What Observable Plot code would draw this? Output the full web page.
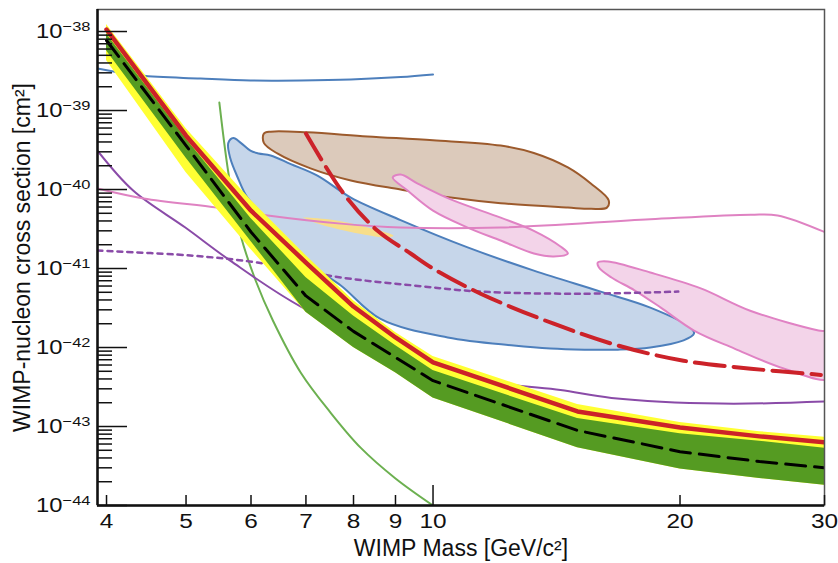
<!DOCTYPE html>
<html><head><meta charset="utf-8">
<script src="https://cdn.jsdelivr.net/npm/d3@7"></script>
<script src="https://cdn.jsdelivr.net/npm/@observablehq/plot@0.6"></script>
<style>body{margin:0;background:#fff}#chart{width:838px;height:563px}</style>
</head><body><div id="chart"></div>
<script>
// ---- expected-sensitivity band and observed limit (WIMP mass in GeV/c^2, cross section in cm^2)
const mass     = [4, 5, 6, 7, 8, 9, 10, 15, 20, 25, 30];
const limit    = [1.06e-38, 4.8e-40, 5.4e-41, 1.19e-41, 3.3e-42, 1.34e-42, 6.5e-43, 1.55e-43, 9.7e-44, 7.5e-44, 6.3e-44];
const median   = [7.7e-39, 3.6e-40, 2.9e-41, 4.5e-42, 1.6e-42, 7.5e-43, 3.8e-43, 8.9e-44, 4.8e-44, 3.6e-44, 3.0e-44];
const sigma1Hi = [9.4e-39, 4.4e-40, 4.3e-41, 7.7e-42, 2.5e-42, 1.06e-42, 5.1e-43, 1.26e-43, 8.1e-44, 6.5e-44, 5.3e-44];
const sigma1Lo = [5.7e-39, 2.5e-40, 2.2e-41, 2.8e-42, 1.0e-42, 4.8e-43, 2.3e-43, 5.4e-44, 2.9e-44, 2.2e-44, 1.8e-44];
const sigma2Hi = [1.23e-38, 5.9e-40, 7.3e-41, 1.46e-41, 3.9e-42, 1.55e-42, 7.7e-43, 1.9e-43, 1.12e-43, 8.6e-44, 7.3e-44];
const sigma2Lo = [4.3e-39, 1.64e-40, 1.74e-41, 2.8e-42, 1.0e-42, 4.8e-43, 2.3e-43, 5.4e-44, 2.9e-44, 2.2e-44, 1.8e-44];

// ---- other experiments: open curves
const blueLineM = [3.9, 4.40, 5.21, 5.99, 6.90, 7.94, 9.13, 10.0];
const blueLineS = [3.4e-39, 2.77e-39, 2.54e-39, 2.4e-39, 2.4e-39, 2.47e-39, 2.65e-39, 2.86e-39];
const greenLineM = [5.49, 5.65, 5.83, 6.08, 6.38, 6.90, 7.50, 8.16, 9.0, 10.0];
const greenLineS = [1.26e-39, 1.3e-40, 2.6e-41, 7.0e-42, 2.2e-42, 4.8e-43, 1.5e-43, 5.4e-44, 2.2e-44, 1.0e-44];
const purpleM = [3.9, 4.31, 4.99, 5.66, 6.90, 9.13, 11.86, 14.3, 16.5, 22.4, 30];
const purpleS = [3.1e-40, 9.7e-41, 3.3e-41, 1.26e-41, 3.3e-42, 9.0e-43, 3.7e-43, 2.9e-43, 2.3e-43, 1.95e-43, 2.07e-43];
const dottedM = [3.9, 5.06, 6.11, 7.72, 9.47, 11.43, 15.1, 19.9];
const dottedS = [1.69e-41, 1.46e-41, 1.19e-41, 7.7e-42, 6.1e-42, 5.1e-42, 4.8e-42, 5.1e-42];
const pinkLineM = [3.9, 4.44, 5.46, 6.29, 7.72, 9.13, 12.09, 18.4, 24.4, 26.3, 30];
const pinkLineS = [1.03e-40, 7.7e-41, 5.9e-41, 4.7e-41, 3.7e-41, 3.3e-41, 3.3e-41, 4.2e-41, 4.8e-41, 4.7e-41, 2.9e-41];
const redDashM = [7.0, 7.78, 8.56, 9.39, 10.0, 11.43, 14.03, 16.8, 20.2, 24.4, 29.7];
const redDashS = [5.1e-40, 8.9e-41, 3.0e-41, 1.55e-41, 1.0e-41, 4.8e-42, 2.0e-42, 1.06e-42, 6.8e-43, 5.4e-43, 4.5e-43];

// ---- closed contours [mass, cross section]
const brownRegion = [[6.22,5.1e-40],[6.34,5.4e-40],[7.03,5.3e-40],[8.32,4.7e-40],[10.0,4.2e-40],[12.09,3.6e-40],[13.27,2.9e-40],[14.60,1.9e-40],[15.57,1.19e-40],[16.37,7.3e-41],[16.29,5.9e-41],[15.57,5.7e-41],[14.60,5.9e-41],[12.09,6.7e-41],[10.51,7.9e-41],[9.13,1.0e-40],[7.94,1.3e-40],[7.09,1.85e-40],[6.46,2.86e-40],[6.22,3.9e-40]];
const blueRegion = [[5.63,3.9e-40],[5.71,4.5e-40],[5.83,3.9e-40],[5.99,3.1e-40],[6.13,2.86e-40],[6.34,2.7e-40],[6.71,2.1e-40],[7.23,1.5e-40],[7.94,7.9e-41],[9.13,4.1e-41],[11.02,1.85e-41],[13.27,9.4e-42],[16.01,5.1e-42],[18.4,3.2e-42],[20.6,1.79e-42],[20.8,1.5e-42],[20.2,1.23e-42],[18.4,1.0e-42],[16.8,9.4e-43],[15.3,9.4e-43],[13.9,9.7e-43],[12.54,1.06e-42],[10.42,1.34e-42],[8.63,2.3e-42],[7.72,6.1e-42],[7.19,1.0e-41],[6.71,1.85e-41],[6.22,4.7e-41],[5.94,7.9e-41],[5.78,1.42e-40],[5.66,2.5e-40]];
const orangeRegion = [[6.95,4.4e-41],[7.56,4.1e-41],[8.32,3.3e-41],[8.95,2.6e-41],[8.81,2.47e-41],[7.94,2.9e-41],[7.23,3.7e-41],[6.99,4.3e-41]];
const pinkRegion1 = [[8.93,1.42e-40],[9.13,1.55e-40],[9.58,1.19e-40],[10.51,7.5e-41],[12.09,4.4e-41],[13.27,3.0e-41],[14.3,1.9e-41],[14.6,1.55e-41],[14.03,1.42e-41],[13.27,1.55e-41],[12.09,2.26e-41],[11.02,3.3e-41],[10.0,5.4e-41],[9.31,9.7e-41]];
const pinkRegion2 = [[15.88,1.19e-41],[16.33,1.23e-41],[18.4,8.9e-42],[21.2,5.6e-42],[24.4,2.9e-42],[29.5,1.64e-42],[30.5,1.55e-42],[30.5,4.1e-43],[26.8,5.4e-43],[23.3,9.7e-43],[20.8,1.64e-42],[18.95,3.2e-42],[17.6,5.3e-42],[16.5,7.7e-42],[15.93,1.03e-41]];

// ---- axes
const xDomain = [3.9, 30];
const yDomain = [1e-44, 1.9e-38];
const xTicks = [4, 5, 6, 7, 8, 9, 10, 20, 30];
const xMajorTicks = [10];
const yDecades = [1e-44, 1e-43, 1e-42, 1e-41, 1e-40, 1e-39, 1e-38];
const yMinor = yDecades.slice(0, -1).flatMap(d => [2,3,4,5,6,7,8,9].map(k => k * d));
const xLabel = "WIMP Mass [GeV/c²]";
const yLabel = "WIMP-nucleon cross section [cm²]";

const band = mass.map((m, i) => ({m, lim: limit[i], med: median[i], h1: sigma1Hi[i], l1: sigma1Lo[i], h2: sigma2Hi[i], l2: sigma2Lo[i]}));
const zip = (ms, ss) => ms.map((m, i) => ({m, s: ss[i]}));
const pts = (arr) => arr.map(([m, s]) => ({m, s}));
const region = (arr, fill, stroke) => Plot.line(pts(arr), {x: "m", y: "s", curve: "catmull-rom-closed", fill, stroke, strokeWidth: 2, clip: true});
const curve = (ms, ss, stroke, extra = {}) => Plot.line(zip(ms, ss), {x: "m", y: "s", curve: "catmull-rom", stroke, strokeWidth: 2, clip: true, ...extra});

const chart = Plot.plot({
  width: 838, height: 563,
  marginLeft: 97, marginRight: 14, marginTop: 9, marginBottom: 58,
  x: {type: "log", domain: xDomain},
  y: {type: "log", domain: yDomain},
  style: {fontFamily: "'Liberation Sans', Arial, Helvetica, sans-serif", background: "#fff", color: "#111"},
  marks: [
    region(brownRegion, "#dccabb", "#9c5a2c"),
    region(blueRegion, "#c6d6ea", "#4d7fbc"),
    Plot.line(pts(orangeRegion), {x: "m", y: "s", curve: "catmull-rom-closed", fill: "#f8de8a", stroke: "none"}),
    region(pinkRegion1, "#f3d4e9", "#e082c4"),
    region(pinkRegion2, "#f3d4e9", "#e082c4"),
    curve(blueLineM, blueLineS, "#4d7fbc"),
    curve(greenLineM, greenLineS, "#6cb050"),
    curve(purpleM, purpleS, "#8a4ba8"),
    curve(pinkLineM, pinkLineS, "#df82c2"),
    curve(dottedM, dottedS, "#8a4ba8", {strokeWidth: 2.5, strokeDasharray: "5,5"}),
    curve(redDashM, redDashS, "#cc2229", {strokeWidth: 4, strokeDasharray: "30,9"}),
    Plot.areaY(band, {x: "m", y1: "l2", y2: "h2", fill: "#ffff33", clip: true}),
    Plot.areaY(band, {x: "m", y1: "l1", y2: "h1", fill: "#559b22", clip: true}),
    Plot.line(band, {x: "m", y: "lim", stroke: "#cc2229", strokeWidth: 4.5, clip: true}),
    Plot.line(band, {x: "m", y: "med", stroke: "#000", strokeWidth: 3, strokeDasharray: "20,9", clip: true}),
    Plot.frame({stroke: "#555", strokeWidth: 1.5}),
    Plot.ruleX([xDomain[0]], {stroke: "#111", strokeWidth: 2.5}),
    Plot.ruleY([yDomain[0]], {stroke: "#111", strokeWidth: 2.5}),
    Plot.axisY(yMinor, {anchor: "left", tickSize: 15, dx: 15, fill: "none", label: null, strokeWidth: 1.5}),
    Plot.axisY(yDecades, {anchor: "left", tickSize: 30, dx: 30, fill: "none", label: null, strokeWidth: 1.5}),
    Plot.axisY(yDecades, {anchor: "left", tickSize: 0, tickPadding: 7, fontSize: 19.5, label: null, tickFormat: d => String(Math.round(-Math.log10(d)))}),
    Plot.axisX(xTicks.filter(t => !xMajorTicks.includes(t)), {anchor: "bottom", tickSize: 10, dy: -10, fill: "none", label: null, strokeWidth: 1.5}),
    Plot.axisX(xMajorTicks, {anchor: "bottom", tickSize: 20, dy: -20, fill: "none", label: null, strokeWidth: 1.5}),
    Plot.axisX(xTicks, {anchor: "bottom", tickSize: 0, tickPadding: 9, fontSize: 19.5, label: null, tickFormat: d => String(d)}),
    Plot.text([xLabel], {text: d => d, frameAnchor: "bottom", dy: 43, fontSize: 23, lineAnchor: "middle", textAnchor: "middle", fill: "#111"}),
    Plot.text([yLabel], {text: d => d, frameAnchor: "left", dx: -75, rotate: -90, fontSize: 23, textAnchor: "middle", lineAnchor: "middle", fill: "#111"})
  ]
});
document.getElementById("chart").appendChild(chart);

// widen tick labels horizontally about their anchor (the reference glyphs are wide)
function stretch(node, sx) {
  const tr = node.getAttribute("transform") || "";
  node.setAttribute("transform", `${tr} scale(${sx},1)`);
}
// y tick labels: 10 with a superscript exponent
d3.select(chart).selectAll('[aria-label="y-axis tick label"] text').each(function () {
  const e = this.textContent;
  const t = d3.select(this);
  t.text(null);
  t.append("tspan").text("10");
  t.append("tspan").attr("dy", -7).attr("font-size", "13.5px").text("\u2212" + e);
  stretch(this, 1.22);
});
d3.select(chart).selectAll('[aria-label="x-axis tick label"] text').each(function () {
  stretch(this, 1.25);
});
</script></body></html>
